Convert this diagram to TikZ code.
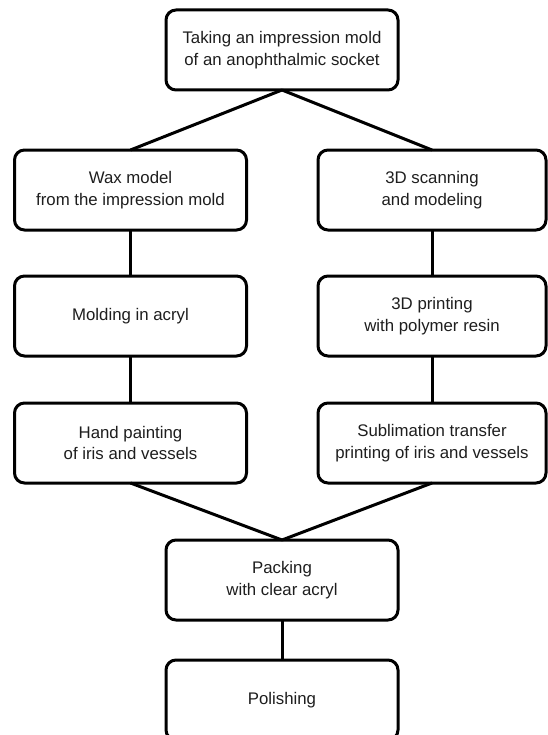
\documentclass[tikz,border=0pt]{standalone}
\usepackage{fontspec}
\setmainfont{Liberation Sans}
\definecolor{txt}{RGB}{30,30,30}
\begin{document}
\begin{tikzpicture}[x=0.75pt,y=-0.75pt,
  stepbox/.style={draw=black, line width=2.25pt, rounded corners=7.5pt,
    minimum height=60pt, outer sep=0pt, inner sep=0pt, align=center,
    text=txt, font=\fontsize{12.6pt}{16pt}\selectfont},
  wide/.style={stepbox, minimum width=174pt},
  rwide/.style={stepbox, minimum width=171pt},
  link/.style={draw=black, line width=2.25pt}]
\useasboundingbox (0,0) rectangle (547,735);
\fill[white] (0,0) rectangle (547,735);
\node[wide] (top) at (282,50) {Taking an impression mold\\of an anophthalmic socket};
\node[wide] (l1) at (130.5,190) {Wax model\\from the impression mold};
\node[rwide] (r1) at (432,190) {3D scanning\\and modeling};
\node[wide] (l2) at (130.5,316) {Molding in acryl};
\node[rwide] (r2) at (432,316) {3D printing\\with polymer resin};
\node[wide] (l3) at (130.5,443) {Hand painting\\of iris and vessels};
\node[rwide] (r3) at (432,443) {Sublimation transfer\\printing of iris and vessels};
\node[wide] (pack) at (282,580) {Packing\\with clear acryl};
\node[wide] (pol) at (282,700) {Polishing};
\draw[link] (top.south) -- (l1.north);
\draw[link] (top.south) -- (r1.north);
\draw[link] (l1) -- (l2);
\draw[link] (l2) -- (l3);
\draw[link] (r1) -- (r2);
\draw[link] (r2) -- (r3);
\draw[link] (l3.south) -- (pack.north);
\draw[link] (r3.south) -- (pack.north);
\draw[link] (pack) -- (pol);
\end{tikzpicture}
\end{document}
